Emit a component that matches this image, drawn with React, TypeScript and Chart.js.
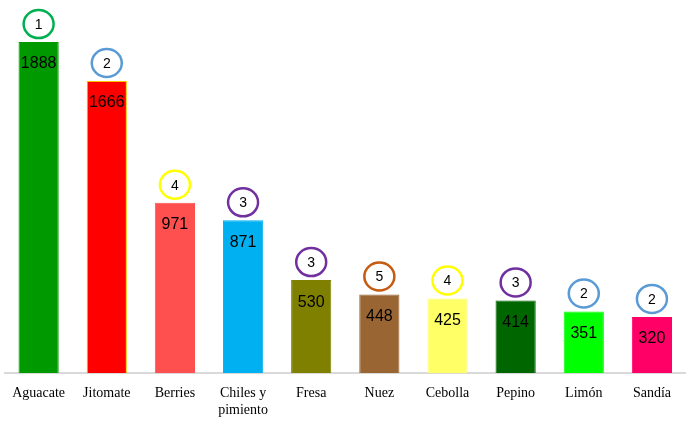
import React, { useEffect, useRef } from "react";
import { Chart, registerables } from "chart.js";

Chart.register(...registerables);

const categories: (string | string[])[] = [
  "Aguacate", "Jitomate", "Berries", ["Chiles y", "pimiento"], "Fresa",
  "Nuez", "Cebolla", "Pepino", "Limón", "Sandía",
];
const values = [1888, 1666, 971, 871, 530, 448, 425, 414, 351, 320];
const ranks = [1, 2, 4, 3, 3, 5, 4, 3, 2, 2];
const barColors = [
  "#009900", "#FF0000", "#FF5050", "#00B0F0", "#808000",
  "#996633", "#FFFF66", "#006600", "#00FF00", "#FF0066",
];
const barBorders = [
  "#009900", "#FFC000", "#FF5050", "#00B0F0", "#808000",
  "#996633", "#FFFF66", "#006600", "#00FF00", "#FF0066",
];
const rankColors: Record<number, string> = {
  1: "#00B050",
  2: "#5B9BD5",
  3: "#7030A0",
  4: "#FFFF00",
  5: "#C55A11",
};

const labelPlugin = {
  id: "labelPlugin",
  afterDatasetsDraw(chart: any) {
    const ctx = chart.ctx;
    const meta = chart.getDatasetMeta(0);
    ctx.save();
    meta.data.forEach((bar: any, i: number) => {
      const x = bar.x;
      const top = bar.y;
      ctx.fillStyle = "#000";
      ctx.font = "16px 'Liberation Sans', Arial, sans-serif";
      ctx.textAlign = "center";
      ctx.textBaseline = "middle";
      ctx.fillText(String(values[i]), x, top + 22);
      const cy = top - 18;
      ctx.beginPath();
      ctx.ellipse(x, cy, 15, 14, 0, 0, Math.PI * 2);
      ctx.fillStyle = "#fff";
      ctx.fill();
      ctx.lineWidth = 2.5;
      ctx.strokeStyle = rankColors[ranks[i]];
      ctx.stroke();
      ctx.fillStyle = "#000";
      ctx.font = "14px 'Liberation Sans', Arial, sans-serif";
      ctx.fillText(String(ranks[i]), x, cy + 1);
    });
    ctx.restore();
  },
};

export default function App() {
  const ref = useRef<HTMLCanvasElement>(null);
  useEffect(() => {
    if (!ref.current) return;
    const chart = new Chart(ref.current, {
      type: "bar",
      data: {
        labels: categories,
        datasets: [
          {
            data: values,
            backgroundColor: barColors,
            borderColor: barBorders,
            borderWidth: 1,
            barPercentage: 0.59,
            categoryPercentage: 1,
          },
        ],
      },
      options: {
        animation: false,
        responsive: false,
        maintainAspectRatio: false,
        layout: { padding: { left: 4, right: 0, top: 0, bottom: 0 } },
        plugins: { legend: { display: false }, tooltip: { enabled: false } },
        scales: {
          x: {
            grid: { display: false, drawTicks: false, tickLength: 0 },
            border: { display: true, color: "#D9D9D9", width: 2 },
            ticks: {
              color: "#000",
              font: { family: "'Liberation Serif', 'Times New Roman', serif", size: 14, lineHeight: 1.2 },
              padding: 12,
              maxRotation: 0,
              autoSkip: false,
            },
            afterFit: (scale: any) => {
              scale.height = 48;
            },
          },
          y: {
            display: false,
            min: 0,
            max: 2128,
          },
        },
      },
      plugins: [labelPlugin],
    });
    return () => chart.destroy();
  }, []);
  return (
    <div style={{ position: "fixed", left: 0, top: 0, width: 686, height: 421, background: "#fff" }}>
      <canvas ref={ref} width={686} height={421} style={{ display: "block" }} />
    </div>
  );
}
